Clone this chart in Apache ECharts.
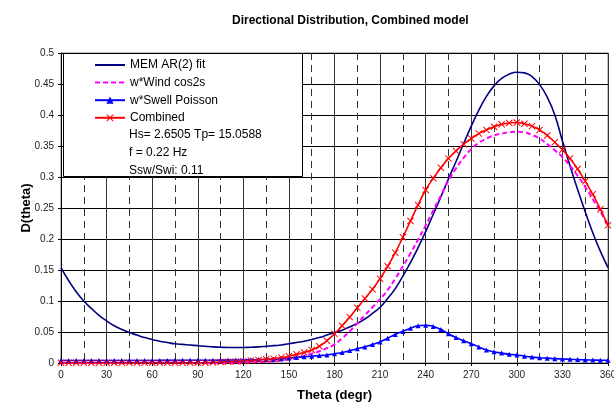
<!DOCTYPE html>
<html>
<head>
<meta charset="utf-8">
<script src="https://cdn.jsdelivr.net/npm/echarts@6/dist/echarts.min.js"></script>
<style>html,body{margin:0;padding:0;background:#fff;}#c{width:614px;height:405px;}</style>
</head>
<body>
<div id="c"></div>
<script>
var theta = [0,5,10,15,20,25,30,35,40,45,50,55,60,65,70,75,80,85,90,95,100,105,110,115,120,125,130,135,140,145,150,155,160,165,170,175,180,185,190,195,200,205,210,215,220,225,230,235,240,245,250,255,260,265,270,275,280,285,290,295,300,305,310,315,320,325,330,335,340,345,350,355,360];
var memFit = [0.154,0.133,0.115,0.100,0.088,0.077,0.068,0.060,0.054,0.049,0.045,0.041,0.038,0.035,0.033,0.031,0.030,0.029,0.028,0.027,0.026,0.0255,0.025,0.025,0.025,0.0255,0.026,0.027,0.028,0.029,0.031,0.033,0.035,0.038,0.041,0.045,0.049,0.053,0.058,0.064,0.071,0.080,0.090,0.104,0.120,0.140,0.162,0.186,0.212,0.240,0.268,0.297,0.325,0.354,0.382,0.408,0.430,0.447,0.459,0.466,0.469,0.468,0.462,0.449,0.429,0.400,0.358,0.318,0.280,0.244,0.210,0.180,0.154];
var windCos = [0,0,0,0,0,0,0,0,0,0,0,0,0,0,0,0,0,0,0,0,0,0,0,0,0.0005,0.001,0.0015,0.002,0.003,0.004,0.006,0.008,0.011,0.015,0.019,0.024,0.030,0.040,0.051,0.064,0.077,0.090,0.103,0.118,0.136,0.156,0.177,0.199,0.222,0.246,0.270,0.294,0.314,0.331,0.345,0.355,0.362,0.367,0.370,0.372,0.373,0.372,0.368,0.362,0.353,0.343,0.332,0.318,0.302,0.284,0.264,0.244,0.222];
var swellPoisson = [0.004,0.004,0.004,0.004,0.004,0.004,0.004,0.004,0.004,0.004,0.004,0.004,0.004,0.0042,0.0042,0.0043,0.0043,0.0044,0.0044,0.0045,0.0045,0.0046,0.0047,0.0048,0.005,0.0052,0.0055,0.0058,0.006,0.007,0.008,0.009,0.010,0.011,0.012,0.013,0.015,0.017,0.020,0.023,0.026,0.030,0.034,0.040,0.046,0.051,0.056,0.060,0.061,0.059,0.054,0.047,0.041,0.036,0.031,0.026,0.021,0.018,0.016,0.014,0.013,0.011,0.0095,0.0085,0.0078,0.007,0.0065,0.006,0.0055,0.005,0.0048,0.0045,0.0043];
var combined = [0.0005,0.0005,0.0005,0.0005,0.0005,0.0005,0.0005,0.0005,0.0005,0.0005,0.0005,0.0005,0.0005,0.0005,0.0005,0.0005,0.0005,0.0005,0.0005,0.0005,0.001,0.0015,0.002,0.0025,0.003,0.004,0.005,0.006,0.007,0.009,0.011,0.014,0.017,0.021,0.027,0.036,0.047,0.060,0.074,0.089,0.104,0.119,0.136,0.156,0.178,0.203,0.229,0.255,0.279,0.298,0.315,0.330,0.342,0.353,0.362,0.370,0.376,0.381,0.385,0.387,0.388,0.386,0.382,0.376,0.367,0.356,0.344,0.330,0.313,0.293,0.272,0.248,0.222];
var seriesNames = ['MEM AR(2) fit','w*Wind cos2s','w*Swell Poisson','Combined'];
var infoLines = ['Hs= 2.6505 Tp= 15.0588','f = 0.22 Hz','Ssw/Swi: 0.11'];
var chartTitle = 'Directional Distribution, Combined model';
var xName = 'Theta (degr)';
var yName = 'D(theta)';

function zip(a){ return theta.map(function(t,i){ return [t,a[i]]; }); }
var FONT = 'Liberation Sans, Arial, sans-serif';
var xSym = 'path://M0,1L1,0L5,4L9,0L10,1L6,5L10,9L9,10L5,6L1,10L0,9L4,5Z';

var chart = echarts.init(document.getElementById('c'), null, {renderer:'canvas'});
chart.setOption({
  animation:false,
  backgroundColor:'#fff',
  title:{ text: chartTitle, left:227, top:10, textStyle:{fontFamily:FONT, fontSize:12, fontWeight:'bold', color:'#000'} },
  grid:{ left:61, right:6, top:53, bottom:42, outerBoundsMode:'none', containLabel:false, show:true, borderColor:'#808080', borderWidth:1, backgroundColor:'#fff' },
  xAxis:{ type:'value', min:0, max:360, interval:30,
    name:xName, nameLocation:'middle', nameGap:26, nameMoveOverlap:false,
    nameTextStyle:{fontFamily:FONT, fontSize:13, fontWeight:'bold', color:'#000'},
    axisLine:{show:true, lineStyle:{color:'#000', width:1}},
    axisTick:{show:true, length:3, inside:false, lineStyle:{color:'#000'}},
    axisLabel:{fontFamily:FONT, fontSize:10, color:'#222', margin:7},
    splitLine:{show:true, lineStyle:{color:'#333', width:1}},
    minorTick:{show:false, splitNumber:2},
    minorSplitLine:{show:true, lineStyle:{color:'#333', width:1, type:[7,5]}}
  },
  yAxis:{ type:'value', min:0, max:0.5, interval:0.05,
    name:yName, nameLocation:'middle', nameGap:28, nameMoveOverlap:false,
    nameTextStyle:{fontFamily:FONT, fontSize:13, fontWeight:'bold', color:'#000'},
    axisLine:{show:true, lineStyle:{color:'#000', width:1}},
    axisTick:{show:true, length:3, lineStyle:{color:'#000'}},
    axisLabel:{fontFamily:FONT, fontSize:10, color:'#222', margin:7},
    splitLine:{show:true, lineStyle:{color:'#000', width:1}}
  },
  legend:{ orient:'vertical', left:94, top:59, padding:0, itemWidth:30, itemHeight:9, itemGap:5.6, z:20,
    textStyle:{fontFamily:FONT, fontSize:12, color:'#000'},
    data:[
      {name:seriesNames[0], itemStyle:{opacity:0}},
      {name:seriesNames[1], itemStyle:{opacity:0}},
      {name:seriesNames[2]},
      {name:seriesNames[3]}
    ] },
  graphic:[
    {type:'rect', z:10, shape:{x:63.5, y:53.5, width:239, height:123}, style:{fill:'#fff', stroke:'#000', lineWidth:1}},
    {type:'text', z:20, x:129, y:135, style:{text:infoLines[0], font:'12px '+FONT, fill:'#000', textVerticalAlign:'middle'}},
    {type:'text', z:20, x:129, y:153, style:{text:infoLines[1], font:'12px '+FONT, fill:'#000', textVerticalAlign:'middle'}},
    {type:'text', z:20, x:129, y:171, style:{text:infoLines[2], font:'12px '+FONT, fill:'#000', textVerticalAlign:'middle'}}
  ],
  series:[
    {name:seriesNames[0], type:'line', data:zip(memFit), smooth:true, showSymbol:false, symbol:'circle',
      lineStyle:{color:'#000080', width:1.6}, itemStyle:{color:'#000080'}},
    {name:seriesNames[1], type:'line', data:zip(windCos), smooth:true, showSymbol:false, symbol:'circle',
      lineStyle:{color:'#FF00FF', width:2, type:[5,3]}, itemStyle:{color:'#FF00FF'}},
    {name:seriesNames[2], type:'line', data:zip(swellPoisson), smooth:true, symbol:'triangle', symbolSize:5, showAllSymbol:true,
      lineStyle:{color:'#0000FF', width:1.6}, itemStyle:{color:'#0000FF'}},
    {name:seriesNames[3], type:'line', data:zip(combined), smooth:true, symbol:xSym, symbolSize:7, showAllSymbol:true,
      lineStyle:{color:'#FF0000', width:1.6}, itemStyle:{color:'#FF0000'}}
  ]
});
</script>
</body>
</html>
